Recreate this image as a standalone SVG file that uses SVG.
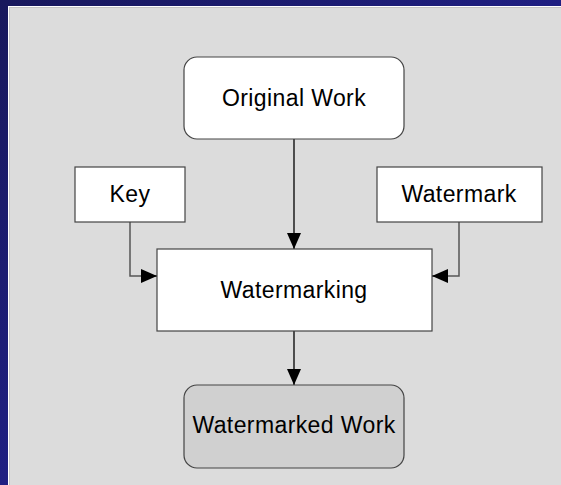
<svg xmlns="http://www.w3.org/2000/svg" width="561" height="485" viewBox="0 0 561 485">
  <defs>
    <linearGradient id="bg" x1="0" y1="0" x2="1" y2="1">
      <stop offset="0" stop-color="#18185c"/>
      <stop offset="1" stop-color="#2626a8"/>
    </linearGradient>
    <marker id="arrow" viewBox="0 0 16 14" refX="16" refY="7" markerWidth="16" markerHeight="14" markerUnits="userSpaceOnUse" orient="auto">
      <path d="M0,0 L16,7 L0,14 Z" fill="#000"/>
    </marker>
    <style>
      .box { fill: #ffffff; stroke: #444444; stroke-width: 1.2; }
      .result { fill: #d0d0d0; stroke: #444444; stroke-width: 1.2; }
      .label { font-family: "Liberation Sans", Arial, sans-serif; font-size: 23px; letter-spacing: 0.4px; fill: #000; text-anchor: middle; }
      .link { fill: none; stroke: #000; stroke-width: 1.3; }
      .side { fill: none; stroke: #555555; stroke-width: 1.5; }
    </style>
  </defs>

  <!-- backdrop and canvas panel -->
  <rect x="0" y="0" width="561" height="485" fill="url(#bg)"/>
  <rect x="8" y="6" width="553" height="479" fill="#ffffff"/>
  <rect x="9" y="7" width="552" height="478" fill="#c4c4c4"/>
  <rect x="10" y="8" width="551" height="477" fill="#dcdcdc"/>

  <!-- connectors -->
  <g id="connectors">
    <path class="link" d="M294,139 V249" marker-end="url(#arrow)"/>
    <path class="side" d="M130,222 V276 H142"/>
    <path class="link" d="M141,276 H157" marker-end="url(#arrow)"/>
    <path class="side" d="M459,222 V276 H447"/>
    <path class="link" d="M448,276 H432" marker-end="url(#arrow)"/>
    <path class="link" d="M294,331 V385" marker-end="url(#arrow)"/>
  </g>

  <g id="original-work">
    <rect class="box" x="184" y="57" width="220" height="82" rx="13"/>
    <text class="label" x="294" y="106">Original Work</text>
  </g>

  <g id="key">
    <rect class="box" x="75" y="167" width="110" height="55"/>
    <text class="label" x="130" y="202">Key</text>
  </g>

  <g id="watermark">
    <rect class="box" x="377" y="167" width="165" height="55"/>
    <text class="label" x="459" y="202">Watermark</text>
  </g>

  <g id="watermarking">
    <rect class="box" x="157" y="249" width="275" height="82"/>
    <text class="label" x="294" y="298">Watermarking</text>
  </g>

  <g id="watermarked-work">
    <rect class="result" x="184" y="385" width="220" height="83" rx="13"/>
    <text class="label" x="294" y="433">Watermarked Work</text>
  </g>
</svg>
